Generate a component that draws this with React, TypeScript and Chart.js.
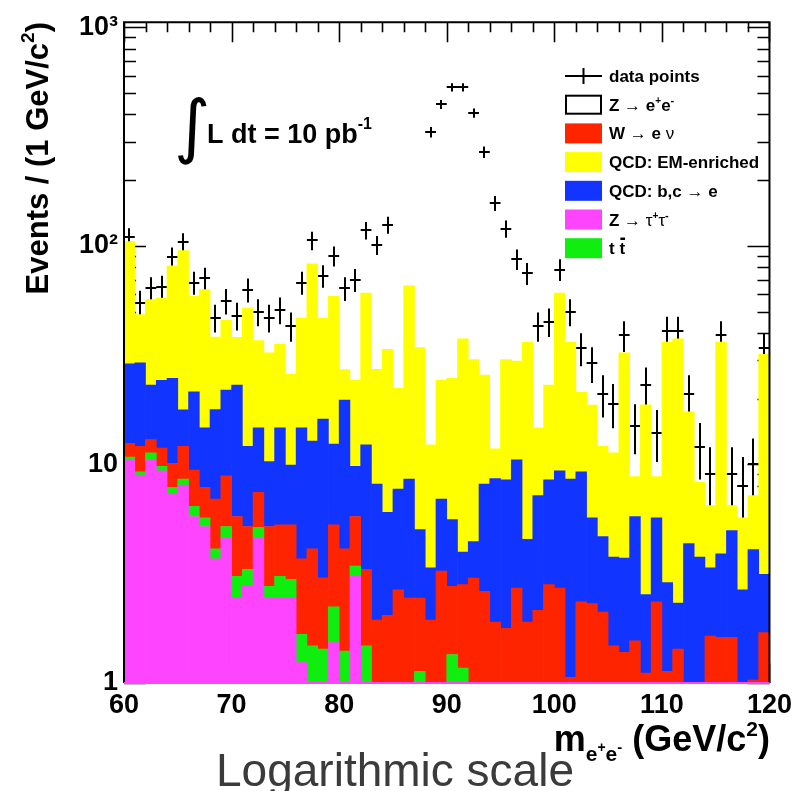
import { useEffect, useRef } from 'react';
import { Chart, registerables } from 'chart.js';

Chart.register(...registerables);

// Lower edges of the 1 GeV/c² invariant-mass bins (60 … 119)
const massBinLow: number[] = Array.from({ length: 60 }, (_, i) => 60 + i);

// Observed events per bin (null: nothing shown above the stack)
const observed: (number | null)[] = [
  110, 55, 64, 65, 89, 104, 68, 71, 47, 56,
  48, 63, 50, 47, 51, 43, 68, 106, 73, 90,
  64, 70, 118, 101, 125, null, null, null, 332, 445,
  533, 533, 406, 269, 157, 120, 87, 75, 43, 45,
  78, 50, 34, 29, 21, 19, 39, 15, 23, 14,
  41, 41, 21, 12, 9, 39, 9, 8, 10, 34,
];

// Expected contributions per bin, stacked bottom to top
const zTauTau: number[] = [
  10.5, 8.95, 10.5, 9.36, 7.33, 8.05, 5.78, 5.2, 3.7, 4.6,
  2.45, 2.78, 4.6, 2.45, 2.45, 2.45, 1.24, 0, 0, 1.53,
  0, 3.08, 0, 0, 0, 0, 0, 0, 0, 0,
  0, 0, 0, 0, 0, 0, 0, 0, 0, 0,
  0, 0, 0, 0, 0, 0, 0, 0, 0, 0,
  0, 0, 0, 0, 0, 0, 0, 0, 0, 0,
];
const ttbar: number[] = [
  0.3, 0.31, 0.8, 0.44, 0.53, 0.53, 0.66, 0.5, 0.41, 0.6,
  0.63, 0.53, 0.56, 0.32, 0.63, 0.53, 0.43, 1.48, 1.43, 0.7,
  1.4, 0.35, 1.48, 0, 0, 0, 0, 1.13, 0, 0,
  1.35, 1.17, 0, 0, 0, 0, 0, 0, 0, 0,
  0, 0, 0, 0, 0, 0, 0, 0, 0, 0,
  0, 0, 0, 0, 0, 0, 0, 0, 0, 0,
];
const wToENu: number[] = [
  1.7, 2.84, 1.7, 2.1, 2.24, 3.52, 2.99, 2.16, 2.84, 3.68,
  2.7, 1.89, 2.29, 2.43, 2.21, 2.31, 2.03, 2.63, 1.6, 3.06,
  2.71, 2.35, 1.83, 1.94, 2.04, 2.67, 2.45, 1.32, 1.94, 3.25,
  1.42, 1.65, 3.02, 2.63, 1.9, 1.78, 2.72, 1.9, 2.15, 2.82,
  2.72, 1.06, 2.35, 2.31, 2.11, 1.48, 1.38, 1.56, 1.11, 2.35,
  1.13, 1.43, 0, 0, 1.64, 1.62, 1.62, 0, 1.03, 1.7,
];
const qcdBcToE: number[] = [
  16.4, 17.1, 10.1, 12.4, 14.7, 5.7, 12.1, 6.84, 10.9, 13.0,
  17.3, 6.9, 7.25, 5.1, 9.41, 4.65, 11.0, 8.69, 13.1, 7.11,
  15.6, 4.02, 8.99, 6.2, 4.0, 5.05, 6.13, 2.59, 1.43, 3.7,
  2.83, 1.15, 1.42, 5.51, 6.73, 6.73, 7.78, 2.64, 5.05, 5.69,
  6.64, 7.52, 6.91, 3.39, 2.57, 2.29, 2.35, 4.22, 1.43, 3.35,
  1.75, 0.89, 4.34, 3.77, 1.73, 2.28, 3.37, 2.67, 3.05, 1.44,
];
const qcdEmEnriched: number[] = [
  75.8, 19.3, 33.7, 33.5, 56.4, 77.5, 37.3, 48.4, 20.4, 23.8,
  15.1, 39.9, 22.2, 22.1, 20.9, 15.9, 32.1, 70.0, 30.7, 46.4,
  7.5, 14.5, 48.6, 19.1, 27.6, 14.6, 57.2, 29.2, 8.93, 17.4,
  19.2, 33.6, 25.8, 17.5, 3.17, 21.7, 19.2, 31.8, 7.5, 14.6,
  51.5, 27.7, 12.2, 13.0, 7.42, 7.53, 28.7, 3.02, 16.2, 3.1,
  33.4, 35.3, 13.1, 4.51, 3.11, 32.4, 1.49, 3.03, 3.12, 28.8,
];

// Axis ticks and labels
const xTickValues = [60, 70, 80, 90, 100, 110, 120];
const yTickValues = [1, 10, 100, 1000];
const yTickLabels = ['1', '10', '10²', '10³'];

const PINK = '#ff44ff';
const GREEN = '#10ee10';
const RED = '#ff2400';
const BLUE = '#1234ff';
const YELLOW = '#ffff00';

const FONT = '"Liberation Sans", Arial, Helvetica, sans-serif';

type Seg = { t: string; size?: number; bold?: boolean; dy?: number; family?: string; over?: boolean; color?: string };

function segFont(s: Seg, base: number) {
  return `${s.bold === false ? '' : 'bold '}${s.size ?? base}px ${s.family ?? FONT}`;
}

function drawRich(ctx: CanvasRenderingContext2D, segs: Seg[], x: number, y: number, align: 'left' | 'right' | 'center', base = 16) {
  const widths = segs.map((s) => {
    ctx.font = segFont(s, base);
    return ctx.measureText(s.t).width;
  });
  const total = widths.reduce((a, b) => a + b, 0);
  let cx = align === 'left' ? x : align === 'right' ? x - total : x - total / 2;
  ctx.textAlign = 'left';
  ctx.textBaseline = 'alphabetic';
  segs.forEach((s, i) => {
    ctx.font = segFont(s, base);
    ctx.fillStyle = s.color ?? '#000';
    ctx.fillText(s.t, cx, y + (s.dy ?? 0));
    if (s.over) {
      const sz = s.size ?? base;
      ctx.fillRect(cx + 1, y + (s.dy ?? 0) - sz * 0.98, widths[i] - 1, 2.5);
    }
    cx += widths[i];
  });
}

const LEGEND_SIZE = 17;
const ARROW: Seg = { t: ' → ', bold: false };
const legendEntries: { kind: 'cross' | 'box'; fill?: string; stroke?: string; segs: Seg[] }[] = [
  { kind: 'cross', segs: [{ t: 'data points' }] },
  { kind: 'box', fill: '#ffffff', stroke: '#000', segs: [{ t: 'Z' }, ARROW, { t: 'e' }, { t: '+', size: 10, dy: -7 }, { t: 'e' }, { t: '-', size: 11, dy: -7 }] },
  { kind: 'box', fill: RED, segs: [{ t: 'W' }, ARROW, { t: 'e ' }, { t: 'ν', bold: false }] },
  { kind: 'box', fill: YELLOW, segs: [{ t: 'QCD: EM-enriched' }] },
  { kind: 'box', fill: BLUE, segs: [{ t: 'QCD: b,c' }, ARROW, { t: 'e' }] },
  { kind: 'box', fill: PINK, segs: [{ t: 'Z' }, ARROW, { t: 'τ', bold: false }, { t: '+', size: 10, dy: -7 }, { t: 'τ', bold: false }, { t: '-', size: 11, dy: -7 }] },
  { kind: 'box', fill: GREEN, segs: [{ t: 't ' }, { t: 't', over: true }] },
];

const histoDecor = {
  id: 'histoDecor',
  beforeDatasetsDraw(chart: any) {
    const { ctx, chartArea: a, scales } = chart;
    const xs = scales.x;
    const ys = scales.y;
    ctx.save();
    ctx.strokeStyle = '#000';
    ctx.lineCap = 'butt';

    // inward ticks on all four sides
    ctx.lineWidth = 1.6;
    ctx.beginPath();
    for (let v = 60; v <= 120; v += 2) {
      const px = Math.round(xs.getPixelForValue(v)) + 0.5;
      const len = v % 10 === 0 ? 20 : 10;
      ctx.moveTo(px, a.top); ctx.lineTo(px, a.top + len);
      ctx.moveTo(px, a.bottom); ctx.lineTo(px, a.bottom - len);
    }
    for (const d of yTickValues) {
      for (let k = 1; k <= 9; k++) {
        const v = k * d;
        if (v > ys.max) break;
        const py = Math.round(ys.getPixelForValue(v)) + 0.5;
        const len = k === 1 ? 22 : 12;
        ctx.moveTo(a.left, py); ctx.lineTo(a.left + len, py);
        ctx.moveTo(a.right, py); ctx.lineTo(a.right - len, py);
      }
    }
    ctx.stroke();

    // data points with Poisson error bars (the stack is painted over them)
    ctx.lineWidth = 2;
    ctx.beginPath();
    observed.forEach((n, i) => {
      if (n == null) return;
      const xl = xs.getPixelForValue(massBinLow[i]);
      const xr = xs.getPixelForValue(massBinLow[i] + 1);
      const xc = Math.round((xl + xr) / 2);
      const yc = Math.round(ys.getPixelForValue(n));
      const err = Math.sqrt(n);
      ctx.moveTo(xl, yc); ctx.lineTo(xr, yc);
      ctx.moveTo(xc, ys.getPixelForValue(n + err));
      ctx.lineTo(xc, ys.getPixelForValue(Math.max(n - err, 1)));
    });
    ctx.stroke();
    ctx.restore();
  },
  afterDatasetsDraw(chart: any) {
    const { ctx, chartArea: a } = chart;
    ctx.save();

    // frame
    ctx.lineWidth = 2;
    ctx.strokeStyle = '#000';
    ctx.beginPath();
    ctx.moveTo(a.left, a.bottom); ctx.lineTo(a.left, a.top);
    ctx.lineTo(a.right, a.top); ctx.lineTo(a.right, a.bottom);
    ctx.stroke();
    ctx.strokeStyle = PINK;
    ctx.beginPath();
    ctx.moveTo(a.left, a.bottom); ctx.lineTo(a.right, a.bottom);
    ctx.stroke();

    // legend
    const boxX = 565;
    const boxW = 37;
    const rowY0 = 76;
    const rowStep = 28.7;
    legendEntries.forEach((e, i) => {
      const cy = rowY0 + i * rowStep;
      if (e.kind === 'cross') {
        ctx.strokeStyle = '#000';
        ctx.lineWidth = 2;
        ctx.beginPath();
        ctx.moveTo(boxX, cy); ctx.lineTo(boxX + boxW, cy);
        ctx.moveTo(boxX + boxW / 2, cy - 8); ctx.lineTo(boxX + boxW / 2, cy + 8);
        ctx.stroke();
      } else {
        ctx.fillStyle = e.fill!;
        ctx.fillRect(boxX, cy - 10, boxW, 20);
        if (e.stroke) {
          ctx.strokeStyle = e.stroke;
          ctx.lineWidth = 2;
          ctx.strokeRect(boxX + 1, cy - 9, boxW - 2, 18);
        }
      }
      drawRich(ctx, e.segs, 609, cy + 6, 'left', LEGEND_SIZE);
    });

    // integrated luminosity
    ctx.fillStyle = '#000';
    ctx.font = `70px "DejaVu Sans", sans-serif`;
    ctx.textAlign = 'left';
    ctx.textBaseline = 'alphabetic';
    ctx.fillText('∫', 174, 150);
    drawRich(ctx, [{ t: 'L dt = 10 pb', size: 27 }, { t: '-1', size: 16, dy: -14 }], 207, 143, 'left');

    // axis titles
    drawRich(ctx, [
      { t: 'm', size: 36 },
      { t: 'e', size: 21, dy: 10 },
      { t: '+', size: 14, dy: 1 },
      { t: 'e', size: 21, dy: 10 },
      { t: '-', size: 15, dy: 1 },
      { t: ' (GeV/c', size: 36 },
      { t: '2', size: 21, dy: -15 },
      { t: ')', size: 36 },
    ], 770, 751, 'right');

    ctx.save();
    ctx.translate(48, 22);
    ctx.rotate(-Math.PI / 2);
    drawRich(ctx, [
      { t: 'Events / (1 GeV/c', size: 31 },
      { t: '2', size: 19, dy: -14 },
      { t: ')', size: 31 },
    ], 0, 0, 'right');
    ctx.restore();

    drawRich(ctx, [{ t: 'Logarithmic scale', size: 46, bold: false, color: '#3b3b3b' }], 395, 786, 'center');
    ctx.restore();
  },
};

const toPoints = (vals: number[]) => vals.map((v, i) => ({ x: massBinLow[i] + 0.5, y: v }));

export default function App() {
  const canvasRef = useRef<HTMLCanvasElement>(null);

  useEffect(() => {
    const canvas = canvasRef.current;
    if (!canvas) return;
    const tickFont = { family: FONT, size: 27, weight: 'bold' as const };
    const chart = new Chart(canvas, {
      type: 'bar',
      data: {
        datasets: [
          { label: 'Z → τ⁺τ⁻', data: toPoints(zTauTau), backgroundColor: PINK, stack: 'mc' },
          { label: 't t̄', data: toPoints(ttbar), backgroundColor: GREEN, stack: 'mc' },
          { label: 'W → eν', data: toPoints(wToENu), backgroundColor: RED, stack: 'mc' },
          { label: 'QCD: b,c → e', data: toPoints(qcdBcToE), backgroundColor: BLUE, stack: 'mc' },
          { label: 'QCD: EM-enriched', data: toPoints(qcdEmEnriched), backgroundColor: YELLOW, stack: 'mc' },
        ] as any,
      },
      options: {
        responsive: false,
        animation: false,
        devicePixelRatio: 1,
        layout: { padding: { top: 20, right: 27, left: 0, bottom: 0 } },
        datasets: { bar: { barPercentage: 1, categoryPercentage: 1, borderWidth: 0 } },
        plugins: { legend: { display: false }, tooltip: { enabled: false } },
        scales: {
          x: {
            type: 'linear',
            min: 60,
            max: 120,
            offset: false,
            grid: { display: false, drawTicks: false, offset: false },
            border: { display: false },
            afterFit: (s: any) => { s.height = 108; },
            afterBuildTicks: (s: any) => { s.ticks = xTickValues.map((v) => ({ value: v })); },
            ticks: { font: tickFont, color: '#000', padding: 6, maxRotation: 0, autoSkip: false, callback: (v: any) => String(v) },
          },
          y: {
            type: 'logarithmic',
            min: 1,
            max: 1057,
            stacked: true,
            grid: { display: false, drawTicks: false },
            border: { display: false },
            afterFit: (s: any) => { s.width = 124; },
            afterBuildTicks: (s: any) => { s.ticks = yTickValues.map((v) => ({ value: v })); },
            ticks: {
              font: tickFont,
              color: '#000',
              padding: 6,
              autoSkip: false,
              callback: (v: any) => {
                const k = yTickValues.indexOf(Number(v));
                return k >= 0 ? yTickLabels[k] : '';
              },
            },
          },
        } as any,
      },
      plugins: [histoDecor],
    });
    return () => chart.destroy();
  }, []);

  return (
    <div style={{ position: 'absolute', left: 0, top: 0, width: 798, height: 791, background: '#fff' }}>
      <canvas ref={canvasRef} width={798} height={791} style={{ display: 'block' }} />
    </div>
  );
}
